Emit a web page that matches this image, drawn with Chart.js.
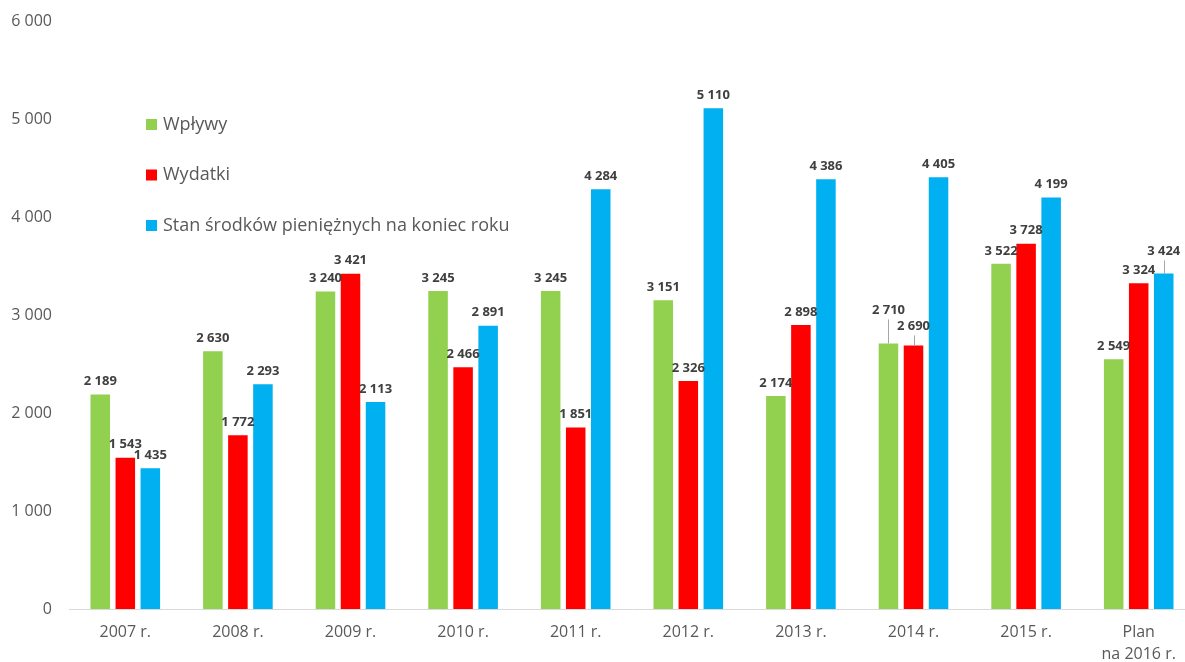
<!DOCTYPE html>
<html>
<head>
<meta charset="utf-8">
<script src="https://cdn.jsdelivr.net/npm/chart.js@4/dist/chart.umd.min.js"></script>
<style>
  html, body { margin: 0; padding: 0; background: #fff; overflow: hidden; }
  #wrap { width: 1185px; height: 662px; position: relative; overflow: hidden; }
  #c { position: absolute; left: 0; top: 0; }
</style>
</head>
<body>
<div id="wrap"><canvas id="c" width="1195" height="662"></canvas></div>
<script>
const categories = ["2007 r.", "2008 r.", "2009 r.", "2010 r.", "2011 r.", "2012 r.", "2013 r.", "2014 r.", "2015 r.", ["Plan", "na 2016 r."]];
const seriesNames = ["Wpływy", "Wydatki", "Stan środków pieniężnych na koniec roku"];
const wplywy  = [2189, 2630, 3240, 3245, 3245, 3151, 2174, 2710, 3522, 2549];
const wydatki = [1543, 1772, 3421, 2466, 1851, 2326, 2898, 2690, 3728, 3324];
const stan    = [1435, 2293, 2113, 2891, 4284, 5110, 4386, 4405, 4199, 3424];
const yTicks  = [0, 1000, 2000, 3000, 4000, 5000, 6000];
const colors  = ["#92D050", "#FF0000", "#00B0F0"];

function fmt(v) {
  return String(v).replace(/\B(?=(\d{3})+(?!\d))/g, " ");
}

// label adjustments (label moved away from bar with a leader line)
const labelShift = { "0-7": -20, "1-7": -6, "2-9": -9 };

const dataLabels = {
  id: "dataLabels",
  afterDatasetsDraw(chart) {
    const ctx = chart.ctx;
    ctx.save();
    ctx.font = "bold 13px 'Open Sans'";
    ctx.fillStyle = "#404040";
    ctx.textAlign = "center";
    ctx.textBaseline = "middle";
    chart.data.datasets.forEach((ds, di) => {
      const meta = chart.getDatasetMeta(di);
      meta.data.forEach((bar, i) => {
        const shift = labelShift[di + "-" + i] || 0;
        const ly = bar.y - 13 + shift;
        if (shift) {
          ctx.strokeStyle = "#a6a6a6";
          ctx.lineWidth = 1;
          ctx.beginPath();
          ctx.moveTo(Math.round(bar.x) + 0.5, ly + 9);
          ctx.lineTo(Math.round(bar.x) + 0.5, bar.y);
          ctx.stroke();
        }
        ctx.fillText(fmt(ds.data[i]), bar.x, ly);
      });
    });
    ctx.restore();
  }
};

const customLegend = {
  id: "customLegend",
  afterDraw(chart) {
    const ctx = chart.ctx;
    ctx.save();
    ctx.font = "18px 'Open Sans'";
    ctx.textBaseline = "middle";
    ctx.textAlign = "left";
    chart.data.datasets.forEach((ds, i) => {
      const y = 124.5 + i * 50.5;
      ctx.fillStyle = ds.backgroundColor;
      ctx.fillRect(146, y - 5.5, 11, 11);
      ctx.fillStyle = "#595959";
      ctx.fillText(ds.label, 163, y);
    });
    ctx.restore();
  }
};

new Chart(document.getElementById("c"), {
  type: "bar",
  data: {
    labels: categories,
    datasets: [
      { label: seriesNames[0], data: wplywy,  backgroundColor: colors[0] },
      { label: seriesNames[1], data: wydatki, backgroundColor: colors[1] },
      { label: seriesNames[2], data: stan,    backgroundColor: colors[2] }
    ]
  },
  options: {
    responsive: false,
    animation: false,
    devicePixelRatio: 1,
    layout: { padding: { top: 21, right: 0, left: 0, bottom: 0 } },
    datasets: { bar: { categoryPercentage: 0.667, barPercentage: 0.78 } },
    plugins: { legend: { display: false }, tooltip: { enabled: false } },
    scales: {
      x: {
        grid: { display: false, drawTicks: false },
        border: { display: true, color: "#D9D9D9", width: 1 },
        ticks: { color: "#595959", font: { family: "'Open Sans'", size: 16, lineHeight: 1.35 }, padding: 13, maxRotation: 0, autoSkip: false },
        afterFit(scale) { scale.height = 53; }
      },
      y: {
        min: 0, max: 6000,
        afterBuildTicks(scale) { scale.ticks = yTicks.map(v => ({ value: v })); },
        grid: { display: false, drawTicks: false },
        border: { display: false },
        ticks: { color: "#595959", font: { family: "'Open Sans'", size: 16 }, padding: 17, callback: v => fmt(v) },
        afterFit(scale) { scale.width = 69; scale.paddingTop = 0; scale.paddingBottom = 0; }
      }
    }
  },
  plugins: [dataLabels, customLegend]
});
</script>
</body>
</html>
